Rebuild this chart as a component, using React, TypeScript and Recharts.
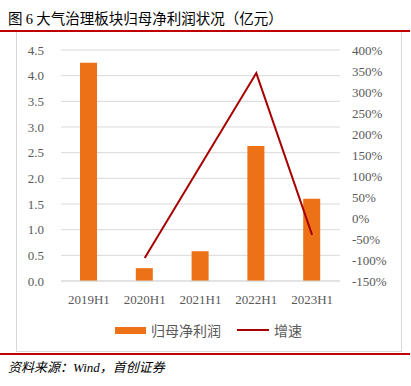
import React from "react";
import {
  Bar,
  CartesianGrid,
  ComposedChart,
  Legend,
  Line,
  XAxis,
  YAxis,
} from "recharts";

const periods = ["2019H1", "2020H1", "2021H1", "2022H1", "2023H1"];
const netProfit = [4.25, 0.25, 0.58, 2.63, 1.6];
const growth: (number | null)[] = [null, -95, 125, 345, -40];
const leftTicks = [0, 0.5, 1, 1.5, 2, 2.5, 3, 3.5, 4, 4.5];
const rightTicks = [-150, -100, -50, 0, 50, 100, 150, 200, 250, 300, 350, 400];

const data = periods.map((p, i) => ({
  period: p,
  profit: netProfit[i],
  growth: growth[i],
}));

const SERIF = '"Liberation Serif", "Times New Roman", serif';
const CJK = '"Noto Sans CJK SC", sans-serif';
const tickStyle = { fontSize: 13, fill: "#595959", fontFamily: SERIF };

function LegendContent() {
  return (
    <div
      style={{
        display: "flex",
        justifyContent: "center",
        alignItems: "center",
        fontFamily: CJK,
        fontSize: 14,
        color: "#595959",
        height: 20,
      }}
    >
      <span style={{ width: 31, height: 7, background: "#ED7117", marginRight: 5 }} />
      <span style={{ marginRight: 16 }}>归母净利润</span>
      <span style={{ width: 32, height: 2, background: "#A80000", marginRight: 5 }} />
      <span>增速</span>
    </div>
  );
}

export default function App() {
  return (
    <div
      style={{
        position: "absolute",
        left: 0,
        top: 0,
        width: 411,
        height: 386,
        background: "#fff",
        overflow: "hidden",
      }}
    >
      <div
        style={{
          position: "absolute",
          left: 8,
          top: 7,
          fontFamily: CJK,
          fontSize: 14.5,
          fontWeight: 400,
          color: "#000",
          whiteSpace: "nowrap",
        }}
      >
        图 <span style={{ fontFamily: SERIF }}>6</span> 大气治理板块归母净利润状况（亿元）
      </div>
      <div style={{ position: "absolute", left: 0, top: 30, width: 410, height: 2, background: "#C00000" }} />
      <div
        style={{
          position: "absolute",
          left: 16,
          top: 32,
          width: 384,
          height: 319,
          border: "1px solid #d9d9d9",
          borderTop: "none",
        }}
      />
      <div style={{ position: "absolute", left: 16, top: 32 }}>
        <ComposedChart
          width={385}
          height={320}
          data={data}
          margin={{ top: 18, right: 0, bottom: 12, left: 0 }}
        >
          <CartesianGrid yAxisId="left" vertical={false} stroke="#d9d9d9" />
          <XAxis
            dataKey="period"
            tick={tickStyle}
            tickLine={false}
            tickSize={4}
            tickMargin={10}
            axisLine={{ stroke: "#d9d9d9" }}
            height={39}
            interval={0}
          />
          <YAxis
            yAxisId="left"
            domain={[0, 4.5]}
            ticks={leftTicks}
            interval={0}
            tickFormatter={(v) => Number(v).toFixed(1)}
            tick={tickStyle}
            tickLine={false}
            axisLine={false}
            tickSize={8}
            tickMargin={9}
            width={45}
          />
          <YAxis
            yAxisId="right"
            orientation="right"
            domain={[-150, 400]}
            ticks={rightTicks}
            interval={0}
            tickFormatter={(v) => `${v}%`}
            tick={{ ...tickStyle, textAnchor: "start" }}
            tickLine={false}
            axisLine={false}
            tickSize={4}
            tickMargin={8}
            width={61}
          />
          <Legend verticalAlign="bottom" content={<LegendContent />} />
          <Bar
            yAxisId="left"
            dataKey="profit"
            fill="#ED7117"
            barSize={17}
            isAnimationActive={false}
          />
          <Line
            yAxisId="right"
            dataKey="growth"
            stroke="#A80000"
            strokeWidth={2}
            dot={false}
            type="linear"
            isAnimationActive={false}
          />
        </ComposedChart>
      </div>
      <div style={{ position: "absolute", left: 0, top: 353, width: 410, height: 2, background: "#C00000" }} />
      <div
        style={{
          position: "absolute",
          left: 8,
          top: 357,
          fontFamily: CJK,
          fontSize: 13,
          fontStyle: "italic",
          color: "#000",
          whiteSpace: "nowrap",
        }}
      >
        资料来源：<span style={{ fontFamily: SERIF }}>Wind</span>，首创证券
      </div>
    </div>
  );
}
